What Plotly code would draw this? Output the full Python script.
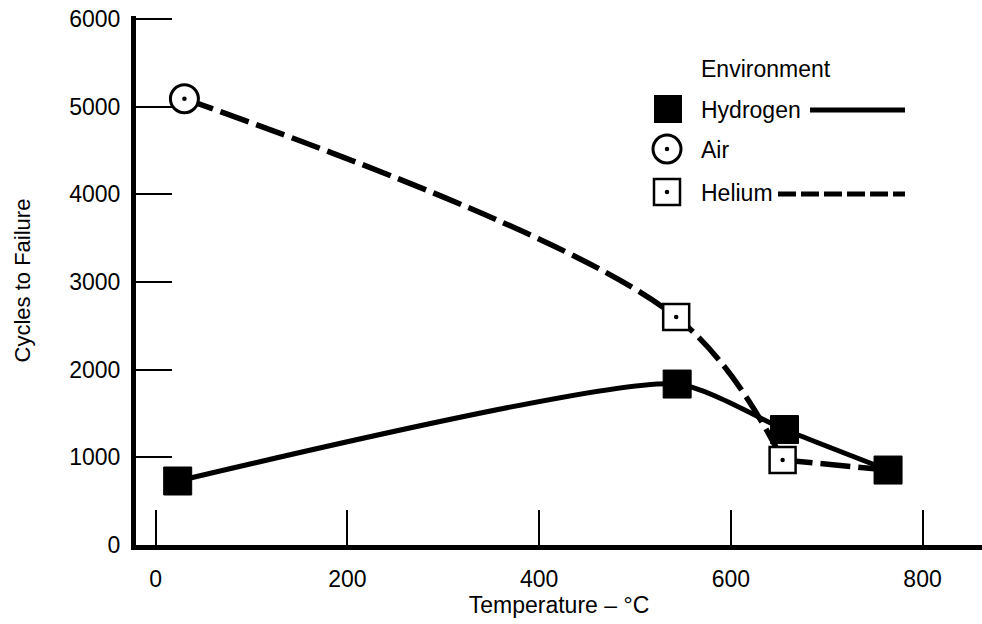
import plotly.graph_objects as go

# ---- data ----
temp_hydrogen = [23, 544, 656, 764]
cycles_hydrogen = [730, 1836, 1317, 855]

temp_air = [30]
cycles_air = [5090]

temp_helium = [543, 654]
cycles_helium = [2600, 970]

x_ticks = [0, 200, 400, 600, 800]
y_ticks = [0, 1000, 2000, 3000, 4000, 5000, 6000]

legend_title = "Environment"
legend_names = ["Hydrogen", "Air", "Helium"]

FONT = "Liberation Sans, Arial, Helvetica, sans-serif"
BLACK = "#000000"

# dashed curve: air -> helium points (smooth), then straight to last hydrogen point
dash_curve_x = temp_air + temp_helium
dash_curve_y = cycles_air + cycles_helium
dash_tail_x = [temp_helium[-1], temp_hydrogen[-1]]
dash_tail_y = [cycles_helium[-1], cycles_hydrogen[-1]]

fig = go.Figure()

# curves
fig.add_trace(go.Scatter(x=dash_curve_x, y=dash_curve_y, mode="lines",
                         line=dict(color=BLACK, width=5.5, dash="30px,8px",
                                   shape="spline", smoothing=1.0),
                         hoverinfo="skip", showlegend=False))
fig.add_trace(go.Scatter(x=dash_tail_x, y=dash_tail_y, mode="lines",
                         line=dict(color=BLACK, width=5.5, dash="30px,8px"),
                         hoverinfo="skip", showlegend=False))
fig.add_trace(go.Scatter(x=temp_hydrogen, y=cycles_hydrogen, mode="lines",
                         line=dict(color=BLACK, width=5, shape="spline", smoothing=0.6),
                         hoverinfo="skip", showlegend=False))

# markers
fig.add_trace(go.Scatter(x=temp_helium, y=cycles_helium, mode="markers", name="Helium",
                         marker=dict(symbol="square", size=26, color="white",
                                     line=dict(color=BLACK, width=2.5)),
                         showlegend=False))
fig.add_trace(go.Scatter(x=temp_air, y=cycles_air, mode="markers", name="Air",
                         marker=dict(symbol="circle", size=28, color="white",
                                     line=dict(color=BLACK, width=3)),
                         showlegend=False))
# centre dots of the open symbols
fig.add_trace(go.Scatter(x=temp_air + temp_helium, y=cycles_air + cycles_helium,
                         mode="markers", marker=dict(symbol="circle", size=4.5, color=BLACK),
                         hoverinfo="skip", showlegend=False))
fig.add_trace(go.Scatter(x=temp_hydrogen, y=cycles_hydrogen, mode="markers", name="Hydrogen",
                         marker=dict(symbol="square", size=28, color=BLACK,
                                     line=dict(color=BLACK, width=1)),
                         showlegend=False))

# ---- custom legend on an overlay axis in pixel units ----
fig.add_trace(go.Scatter(x=[668], y=[109], mode="markers", xaxis="x2", yaxis="y2",
                         marker=dict(symbol="square", size=28, color=BLACK),
                         hoverinfo="skip", showlegend=False))
fig.add_trace(go.Scatter(x=[667], y=[149], mode="markers", xaxis="x2", yaxis="y2",
                         marker=dict(symbol="circle", size=28, color="white",
                                     line=dict(color=BLACK, width=3)),
                         hoverinfo="skip", showlegend=False))
fig.add_trace(go.Scatter(x=[667], y=[192], mode="markers", xaxis="x2", yaxis="y2",
                         marker=dict(symbol="square", size=26, color="white",
                                     line=dict(color=BLACK, width=2.5)),
                         hoverinfo="skip", showlegend=False))
fig.add_trace(go.Scatter(x=[667, 667], y=[149, 192], mode="markers", xaxis="x2", yaxis="y2",
                         marker=dict(symbol="circle", size=4.5, color=BLACK),
                         hoverinfo="skip", showlegend=False))
fig.add_trace(go.Scatter(x=[810, 905], y=[110, 110], mode="lines", xaxis="x2", yaxis="y2",
                         line=dict(color=BLACK, width=5),
                         hoverinfo="skip", showlegend=False))
fig.add_trace(go.Scatter(x=[778, 905], y=[194, 194], mode="lines", xaxis="x2", yaxis="y2",
                         line=dict(color=BLACK, width=5, dash="18px,5px"),
                         hoverinfo="skip", showlegend=False))

annots = [
    dict(x=699, y=69, text=legend_title),
    dict(x=699, y=110, text=legend_names[0]),
    dict(x=699, y=150, text=legend_names[1]),
    dict(x=699, y=193, text=legend_names[2]),
]
for a in annots:
    fig.add_annotation(x=a["x"], y=a["y"], text=a["text"], xref="x2", yref="y2",
                       xanchor="left", yanchor="middle", showarrow=False,
                       font=dict(family=FONT, size=23, color=BLACK))

fig.update_layout(
    width=982, height=624,
    margin=dict(l=136, r=0, t=16, b=79, autoexpand=False),
    paper_bgcolor="white", plot_bgcolor="white",
    font=dict(family=FONT, size=23, color=BLACK),
    showlegend=False,
    xaxis=dict(range=[-20.5, 862], tickvals=x_ticks, ticktext=[str(v) for v in x_ticks],
               ticks="inside", ticklen=35, tickwidth=2, tickcolor=BLACK,
               showline=True, linewidth=5, linecolor=BLACK,
               showgrid=False, zeroline=False, ticklabelstandoff=9,
               ticklabeloverflow="allow",
               tickfont=dict(family=FONT, size=23, color=BLACK),
               title=dict(text="Temperature – °C", standoff=8,
                          font=dict(family=FONT, size=23, color=BLACK))),
    yaxis=dict(range=[0, 6034], tickvals=y_ticks, ticktext=[str(v) for v in y_ticks],
               ticks="inside", ticklen=36, tickwidth=2, tickcolor=BLACK,
               showline=True, linewidth=5, linecolor=BLACK,
               showgrid=False, zeroline=False, ticklabelstandoff=6,
               ticklabeloverflow="allow",
               tickfont=dict(family=FONT, size=23, color=BLACK),
               title=dict(text="Cycles to Failure", standoff=34,
                          font=dict(family=FONT, size=22, color=BLACK))),
    xaxis2=dict(range=[136, 982], overlaying="x", visible=False, fixedrange=True),
    yaxis2=dict(range=[545, 16], overlaying="y", visible=False, fixedrange=True),
)

# remove the default 8px page margin so the figure fills the window exactly
fig.write_html("out.html",
               config={"displayModeBar": False, "staticPlot": True},
               post_script="document.body.style.margin='0';document.body.style.overflow='hidden';")
